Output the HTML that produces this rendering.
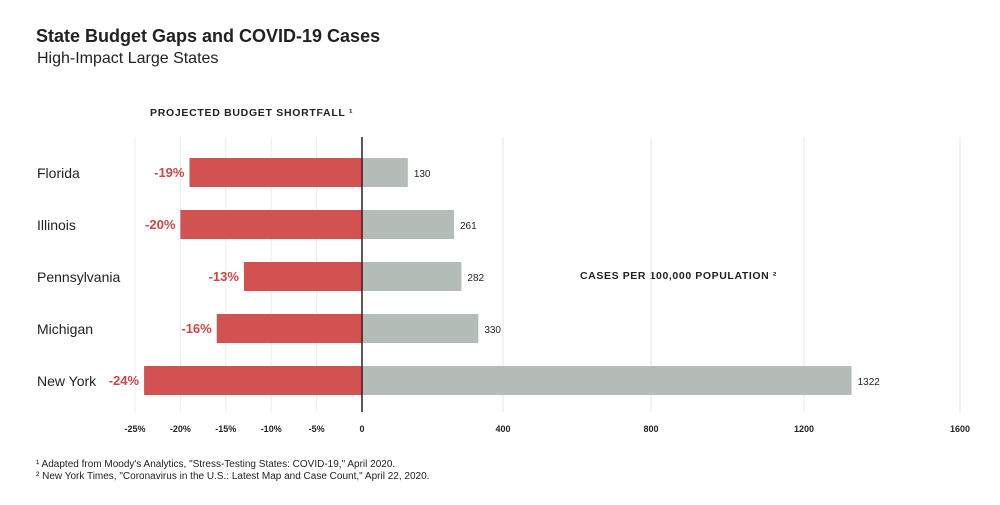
<!DOCTYPE html>
<html><head><meta charset="utf-8"><style>
body{margin:0;background:#fff;font-family:"Liberation Sans",Arial,sans-serif}
svg text{font-family:"Liberation Sans",Arial,sans-serif}
</style></head><body>
<svg id="c" width="1000" height="500">
<text x="36" y="42" font-size="18" font-weight="bold" fill="#222">State Budget Gaps and COVID-19 Cases</text>
<text x="37" y="63" font-size="16" fill="#222">High-Impact Large States</text>
<text x="150" y="116" font-size="10.5" font-weight="bold" fill="#222" letter-spacing="0.7">PROJECTED BUDGET SHORTFALL ¹</text>
<text x="580" y="279" font-size="10.5" font-weight="bold" fill="#222" letter-spacing="0.6">CASES PER 100,000 POPULATION ²</text>
<g id="grid"></g><g id="bars"></g><g id="axis"></g>
<line x1="362" y1="137" x2="362" y2="412" stroke="#222" stroke-width="1.5"/>
<text x="36" y="467" font-size="10" fill="#222">¹ Adapted from Moody's Analytics, "Stress-Testing States: COVID-19," April 2020.</text>
<text x="36" y="479" font-size="10" fill="#222">² New York Times, "Coronavirus in the U.S.: Latest Map and Case Count," April 22, 2020.</text>
</svg>
<script>
const states=["Florida","Illinois","Pennsylvania","Michigan","New York"];
const shortfall=[-19,-20,-13,-16,-24];
const cases=[130,261,282,330,1322];
const pctTicks=[-25,-20,-15,-10,-5];
const caseTicks=[0,400,800,1200,1600];
const NS="http://www.w3.org/2000/svg";
function xp(v){return 362+v*9.08;}
const cPx=[362,503,651,804,960];
function xc(v){let i=Math.min(Math.floor(v/400),3);return cPx[i]+(v-i*400)/400*(cPx[i+1]-cPx[i]);}
function yr(i){return 158+i*52;}
function mk(t,a,p,txt){const e=document.createElementNS(NS,t);for(const k in a)e.setAttribute(k,a[k]);if(txt!==undefined)e.textContent=txt;document.getElementById(p).appendChild(e);return e;}
pctTicks.forEach(v=>{
 const g=mk('line',{x1:xp(v),x2:xp(v),y1:137,y2:412,stroke:'#ececec'},'grid');
 
 
 const t=mk('text',{x:xp(v),y:432,'font-size':9,'font-weight':'bold','text-anchor':'middle',fill:'#222'},'axis',v+'%');
 
 
});
const z=mk('text',{x:362,y:432,'font-size':9,'font-weight':'bold','text-anchor':'middle',fill:'#222'},'axis','0');


caseTicks.slice(1).forEach(v=>{
 const g=mk('line',{x1:xc(v),x2:xc(v),y1:137,y2:412,stroke:'#e4e4e4'},'grid');
 
 
 const t=mk('text',{x:xc(v),y:432,'font-size':9,'font-weight':'bold','text-anchor':'middle',fill:'#222'},'axis',v);
 
 
});
states.forEach((s,i)=>{
 const y=yr(i);
 const l=mk('text',{x:37,y:y+20,'font-size':14,fill:'#222'},'bars',s);
 
 
 const r=mk('rect',{x:xp(shortfall[i]),y:y,width:362-xp(shortfall[i]),height:29,fill:'#d25151'},'bars');
 
 
 const rl=mk('text',{x:xp(shortfall[i])-5,y:y+19,'font-size':13,'font-weight':'bold','text-anchor':'end',fill:'#d04545'},'bars',shortfall[i]+'%');
 
 
 const b=mk('rect',{x:362,y:y,width:xc(cases[i])-362,height:29,fill:'#b4bcb7'},'bars');
 
 
 const bl=mk('text',{x:xc(cases[i])+6,y:y+19,'font-size':10,fill:'#222'},'bars',cases[i]);
 
 
});
</script>
</body></html>
